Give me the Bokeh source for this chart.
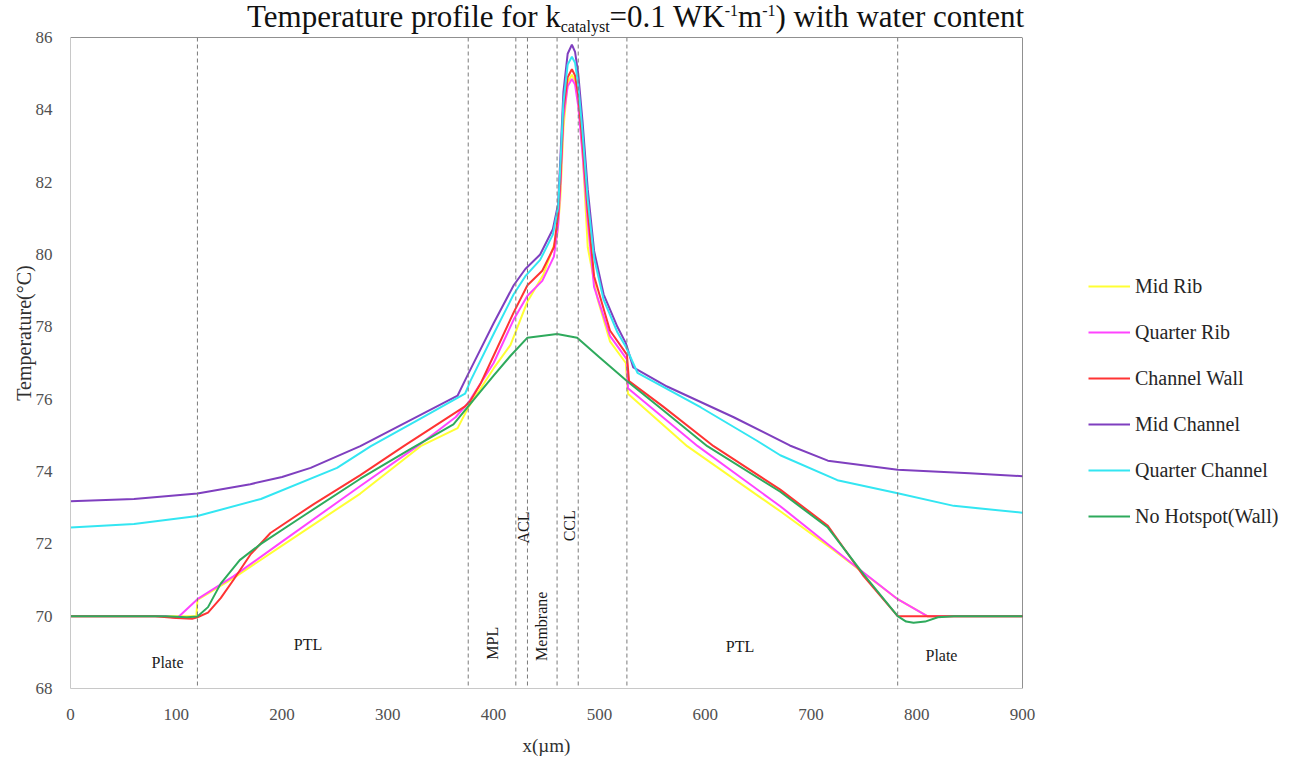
import math
from bokeh.plotting import figure
from bokeh.models import Span, Label, Legend, LegendItem, Div, Range1d, FixedTicker
from bokeh.layouts import column, row
from bokeh.embed import file_html
from bokeh.resources import INLINE

FONT = "Liberation Serif"

# ---------------- data ----------------
series_names = ["Mid Rib", "Quarter Rib", "Channel Wall", "Mid Channel",
                "Quarter Channel", "No Hotspot(Wall)"]
series_colors = ["#ffff33", "#ff44ff", "#ff3333", "#7f3fbf", "#33e6f2", "#2eaa5c"]

mid_rib_x = [0, 100, 119, 120, 154, 200, 274, 331, 366, 376, 400, 416, 432, 447, 460,
             463, 466, 470, 474, 477, 480, 484, 489, 498, 510, 525, 527, 583, 671, 721,
             782, 810, 900]
mid_rib_y = [70, 70, 70.0, 70.45, 71.05, 71.95, 73.39, 74.7, 75.2, 75.77, 76.85, 77.5,
             78.7, 79.44, 80.5, 81.5, 83.5, 84.75, 84.97, 84.8, 84.25, 82.9, 80.2, 78.8,
             77.6, 77.0, 76.15, 74.7, 72.9, 71.84, 70.47, 70.0, 70.0]

quarter_rib_x = [0, 90, 101, 120, 154, 200, 274, 328, 364, 376, 400, 419, 432, 446, 457,
                 461, 463, 466, 470, 474, 477, 480, 484, 489, 495, 510, 526, 527, 560,
                 593, 671, 740, 782, 810, 900]
quarter_rib_y = [70, 70, 69.95, 70.47, 71.1, 72.06, 73.6, 74.7, 75.5, 75.9, 77.0, 78.2,
                 78.86, 79.27, 79.94, 80.8, 81.8, 83.8, 84.65, 84.85, 84.7, 84.1, 82.8,
                 80.9, 79.1, 77.75, 77.1, 76.3, 75.5, 74.7, 73.04, 71.43, 70.47, 70.0, 70.0]

channel_wall_x = [0, 80, 100, 115, 120, 130, 142, 154, 170, 189, 230, 274, 315, 373, 378,
                  388, 400, 419, 432, 446, 457, 461, 463, 466, 470, 474, 477, 480, 484,
                  489, 495, 510, 526, 528, 560, 608, 671, 716, 750, 782, 900]
channel_wall_y = [70, 70, 69.95, 69.93, 69.97, 70.1, 70.5, 71.0, 71.7, 72.3, 73.1, 73.9,
                  74.7, 75.8, 75.95, 76.45, 77.2, 78.4, 79.15, 79.55, 80.2, 81.1, 82.0,
                  84.0, 84.9, 85.12, 84.95, 84.4, 83.1, 81.2, 79.4, 77.9, 77.23, 76.5,
                  75.8, 74.7, 73.5, 72.5, 71.1, 70.0, 70.0]

mid_channel_x = [0, 60, 120, 170, 200, 227, 274, 320, 366, 376, 400, 419, 430, 444, 456,
                 461, 463, 466, 470, 474, 477, 480, 484, 489, 495, 504, 517, 525, 532,
                 564, 627, 680, 716, 782, 850, 900]
mid_channel_y = [73.18, 73.24, 73.39, 73.65, 73.85, 74.1, 74.7, 75.4, 76.1, 76.7, 78.1,
                 79.15, 79.6, 80.0, 80.7, 81.4, 82.6, 84.5, 85.55, 85.8, 85.6, 85.0, 83.7,
                 81.8, 80.1, 78.9, 78.0, 77.55, 76.88, 76.35, 75.5, 74.72, 74.3, 74.05,
                 73.95, 73.87]

quarter_channel_x = [0, 60, 120, 180, 252, 284, 330, 373, 378, 400, 419, 430, 444, 456,
                     461, 463, 466, 470, 474, 477, 480, 484, 489, 495, 504, 517, 525, 536,
                     596, 649, 671, 725, 782, 835, 900]
quarter_channel_y = [72.45, 72.55, 72.77, 73.24, 74.1, 74.7, 75.45, 76.15, 76.5, 77.8,
                     78.9, 79.4, 79.85, 80.55, 81.3, 82.4, 84.2, 85.25, 85.47, 85.3, 84.7,
                     83.4, 81.5, 79.9, 78.75, 77.85, 77.45, 76.73, 75.77, 74.85, 74.45,
                     73.76, 73.4, 73.05, 72.86]

no_hotspot_x = [0, 90, 110, 120, 130, 142, 160, 180, 220, 274, 320, 362, 376, 400, 416,
                432, 460, 479, 500, 526, 560, 602, 671, 716, 750, 782, 790, 797, 808, 820,
                835, 900]
no_hotspot_y = [70, 70, 69.97, 69.99, 70.25, 70.9, 71.55, 72.0, 72.77, 73.8, 74.6, 75.3,
                75.8, 76.65, 77.2, 77.7, 77.8, 77.7, 77.16, 76.5, 75.7, 74.7, 73.44, 72.45,
                71.15, 70.0, 69.85, 69.82, 69.85, 69.97, 70.0, 70.0]

series_x = [mid_rib_x, quarter_rib_x, channel_wall_x, mid_channel_x, quarter_channel_x, no_hotspot_x]
series_y = [mid_rib_y, quarter_rib_y, channel_wall_y, mid_channel_y, quarter_channel_y, no_hotspot_y]

layer_bounds = [120, 376, 421, 432, 460, 480, 526, 782]
region_labels = ["Plate", "PTL", "MPL", "ACL", "Membrane", "CCL", "PTL", "Plate"]
region_x = [91.7, 224.5, 399, 428, 445, 472, 633, 823.4]
region_y = [68.73, 69.22, 69.25, 72.45, 69.72, 72.5, 69.16, 68.9]
region_vertical = [False, False, True, True, True, True, False, False]

x_ticks = [0, 100, 200, 300, 400, 500, 600, 700, 800, 900]
y_ticks = [68, 70, 72, 74, 76, 78, 80, 82, 84, 86]

# ---------------- main figure ----------------
TITLE_H = 24
FIG_H = 758 - TITLE_H
MAIN_W = 1044
p = figure(width=MAIN_W, height=FIG_H, output_backend="svg", toolbar_location=None,
           x_range=Range1d(0, 900), y_range=Range1d(68, 86),
           min_border_left=70, min_border_right=MAIN_W - 1022, min_border_top=13,
           min_border_bottom=68)
p.outline_line_color = None
p.xgrid.grid_line_color = None
p.ygrid.grid_line_color = None
p.background_fill_color = "white"
p.border_fill_color = None

for ax in (p.xaxis[0], p.yaxis[0]):
    ax.axis_line_color = "#c8c8c8"
    ax.axis_line_width = 1
    ax.major_tick_line_color = None
    ax.minor_tick_line_color = None
    ax.major_label_text_font = FONT
    ax.major_label_text_font_size = "17px"
    ax.major_label_text_color = "#505050"
    ax.axis_label_text_font = FONT
    ax.axis_label_text_font_style = "normal"
    ax.axis_label_text_color = "#303030"

p.xaxis.ticker = FixedTicker(ticks=x_ticks)
p.yaxis.ticker = FixedTicker(ticks=y_ticks)
p.xaxis.major_label_standoff = 14
p.yaxis.major_label_standoff = 12
p.xaxis.axis_label = "x(\u00b5m)"
p.xaxis.axis_label_text_font_size = "19px"
p.xaxis.axis_label_standoff = 12

# top / right border
p.add_layout(Span(location=86, dimension="width", line_color="#222222", line_width=1))
p.add_layout(Span(location=900, dimension="height", line_color="#222222", line_width=1))

# layer boundaries
for b in layer_bounds:
    p.add_layout(Span(location=b, dimension="height", line_color="#7a7a7a",
                      line_width=1, line_dash="4 3"))

# region labels
for t, lx, ly, vert in zip(region_labels, region_x, region_y, region_vertical):
    p.add_layout(Label(x=lx, y=ly, text=t, text_font=FONT, text_font_size="16px",
                       text_color="#1a1a1a", text_align="center", text_baseline="middle",
                       angle=(math.pi / 2 if vert else 0)))

# series
for name, col, xs, ys in zip(series_names, series_colors, series_x, series_y):
    p.line(xs, ys, line_color=col, line_width=2)

# ---------------- legend figure (to the right of the plot) ----------------
q = figure(width=1308 - MAIN_W, height=FIG_H, output_backend="svg", toolbar_location=None,
           x_range=Range1d(0, 1), y_range=Range1d(0, 1),
           min_border_left=0, min_border_right=0, min_border_top=0, min_border_bottom=0)
q.axis.visible = False
q.grid.visible = False
q.outline_line_color = None
q.background_fill_color = None
q.border_fill_color = None

items = []
for name, col in zip(series_names, series_colors):
    # keys for the legend only: the points lie outside this figure's ranges
    r = q.line([5, 6], [5, 6], line_color=col, line_width=2)
    items.append(LegendItem(label=name, renderers=[r]))

legend = Legend(items=items, location=(1088 - MAIN_W, 160), orientation="vertical",
                glyph_width=42, glyph_height=24, label_height=24, spacing=22,
                label_standoff=5, padding=0, margin=0,
                label_text_font=FONT, label_text_font_size="20px",
                label_text_color="#262626",
                border_line_color=None, background_fill_alpha=0)
q.add_layout(legend)

# title + y-axis title (the y title sits a little above the axis middle, as in the reference)
title_html = (
    '<div style="font-family:\'Liberation Serif\';font-size:31px;line-height:24px;'
    'white-space:nowrap;padding-left:247px;position:relative;top:5px;color:#111;">'
    'Temperature profile for k<span style="font-size:16px;position:relative;top:5px;">catalyst</span>'
    '=0.1 WK<span style="font-size:16px;position:relative;top:-11px;">-1</span>'
    'm<span style="font-size:16px;position:relative;top:-11px;">-1</span>'
    ') with water content'
    '<div style="position:absolute;left:24px;top:328px;width:0;height:0;">'
    '<div style="position:absolute;left:0;top:0;transform:translate(-50%,-50%) rotate(-90deg);'
    'white-space:nowrap;font-family:\'Liberation Serif\';font-size:20px;line-height:22px;'
    'color:#303030;">Temperature(\u00b0C)</div></div>'
    '</div>'
)
title = Div(text=title_html, width=1308, height=TITLE_H, margin=(0, 0, 0, 0),
            styles={"overflow": "visible", "z-index": "2"})

layout = column(title, row(p, q, spacing=0), spacing=0)
open("out.html", "w").write(file_html(layout, INLINE))
